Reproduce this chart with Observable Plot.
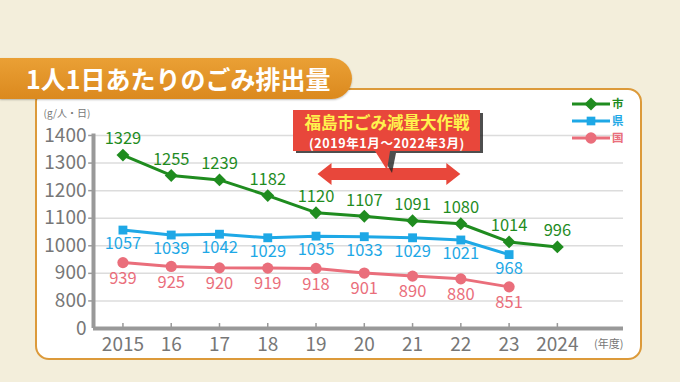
<!DOCTYPE html>
<html><head><meta charset="utf-8">
<script src="https://cdn.jsdelivr.net/npm/d3@7"></script>
<script src="https://cdn.jsdelivr.net/npm/@observablehq/plot@0.6"></script>
<style>
body{margin:0;}
#wrap{position:relative;width:680px;height:382px;overflow:hidden;background:#f3eedb;font-family:"Noto Sans CJK JP","Noto Sans",sans-serif;}
#panel{position:absolute;left:35px;top:88px;width:603px;height:268px;background:#fff;border:2px solid #dc9a3a;border-radius:14px;}
#banner{position:absolute;left:0;top:58px;width:352px;height:41px;background:linear-gradient(#eaa035,#db891e);border-radius:0 21px 21px 0;color:#fff;font-weight:bold;font-size:25px;line-height:41px;padding-left:26px;box-sizing:border-box;box-shadow:0 1px 2px rgba(0,0,0,0.25);}
#chart{position:absolute;left:0;top:0;}
#deco{position:absolute;left:0;top:0;}
</style></head>
<body><div id="wrap"><div id="panel"></div><div id="banner">1人1日あたりのごみ排出量</div><div id="chart"></div><svg id="deco" width="680" height="382"></svg></div>
<script>
const years = [2015,2016,2017,2018,2019,2020,2021,2022,2023,2024];
const xLabels = ["2015","16","17","18","19","20","21","22","23","2024"];
const cityValues = [1329,1255,1239,1182,1120,1107,1091,1080,1014,996];
const prefValues = [1057,1039,1042,1029,1035,1033,1029,1021,968];
const nationValues = [939,925,920,919,918,901,890,880,851];
const yTicks = [700,800,900,1000,1100,1200,1300,1400];
const yLabels = ["0","800","900","1000","1100","1200","1300","1400"];
const seriesNames = ["市","県","国"];
const colors = ["#1f8c1f","#1ea8e6","#ea6e7b"];
const campaignSpan = [2019,2022];

const city = cityValues.map((v,i)=>({year:years[i],v}));
const pref = prefValues.map((v,i)=>({year:years[i],v}));
const nation = nationValues.map((v,i)=>({year:years[i],v}));
const x0 = 2014.39, x1 = 2025.37;

const chart = Plot.plot({
  width:680, height:382,
  marginLeft:93, marginRight:57, marginTop:135, marginBottom:54,
  style:{background:"transparent", fontFamily:'"Noto Sans CJK JP","Noto Sans",sans-serif'},
  x:{domain:[x0,x1], axis:null},
  y:{domain:[700,1400], axis:null},
  marks:[
    Plot.ruleY(yTicks.slice(1), {stroke:"#dcdcdc", strokeWidth:1.5}),
    Plot.ruleY(yTicks.slice(1), {x1:x0-0.1, x2:x0, stroke:"#999", strokeWidth:1.5}),
    Plot.ruleX(years, {y1:700, y2:718, stroke:"#999", strokeWidth:1.5}),
    Plot.ruleY([700], {stroke:"#999", strokeWidth:4}),
    Plot.ruleX([x0], {y1:700, y2:1405, stroke:"#999", strokeWidth:4}),
    Plot.text(yTicks, {x:x0, y:d=>d, dx:-7, textAnchor:"end", text:(d,i)=>yLabels[i], fill:"#777", fontSize:19}),
    Plot.text(years, {x:d=>d, y:700, dy:16, text:(d,i)=>xLabels[i], fill:"#777", fontSize:19}),
    Plot.text(["(年度)"], {x:x1, y:700, dy:16, textAnchor:"end", fill:"#777", fontSize:11}),
    Plot.text(["(g/人・日)"], {x:x0, y:1400, dx:-50, dy:-22, textAnchor:"start", fill:"#777", fontSize:10}),
    Plot.line(nation, {x:"year", y:"v", stroke:colors[2], strokeWidth:3}),
    Plot.dot(nation, {x:"year", y:"v", fill:colors[2], r:5.6, symbol:"circle"}),
    Plot.text(nation, {x:"year", y:"v", dy:16, text:d=>String(d.v), fill:colors[2], fontSize:16.5}),
    Plot.line(pref, {x:"year", y:"v", stroke:colors[1], strokeWidth:3}),
    Plot.dot(pref, {x:"year", y:"v", fill:colors[1], r:5, symbol:"square"}),
    Plot.text(pref, {x:"year", y:"v", dy:14, text:d=>String(d.v), fill:colors[1], fontSize:16.5}),
    Plot.line(city, {x:"year", y:"v", stroke:colors[0], strokeWidth:3}),
    Plot.dot(city, {x:"year", y:"v", fill:colors[0], r:5.8, symbol:"diamond2"}),
    Plot.text(city, {x:"year", y:"v", dy:-16, text:d=>String(d.v), fill:colors[0], fontSize:16.5})
  ]
});
document.getElementById("chart").appendChild(chart);

// decorations: legend, callout and arrow
const xs = chart.scale("x");
const deco = d3.select("#deco");
const legY = [104,121,138];
const sym = [d3.symbolDiamond2, d3.symbolSquare, d3.symbolCircle];
const symSize = [110,75,100];
seriesNames.forEach((n,i)=>{
  deco.append("line").attr("x1",572).attr("x2",610).attr("y1",legY[i]).attr("y2",legY[i]).attr("stroke",colors[i]).attr("stroke-width",3);
  deco.append("path").attr("d",d3.symbol(sym[i],symSize[i])()).attr("transform",`translate(591,${legY[i]})`).attr("fill",colors[i]);
  deco.append("text").attr("x",612).attr("y",legY[i]).attr("dy","0.36em").attr("font-size",11.5).attr("font-weight","bold").attr("fill",colors[i]).text(n);
});
const red = "#e8473b";
// double arrow spanning the campaign
const ax1 = xs.apply(campaignSpan[0]) + 2, ax2 = xs.apply(campaignSpan[1]);
deco.append("path").attr("d",`M${ax1},174 L${ax1+14},163 L${ax1+14},168 L${ax2-14},168 L${ax2-14},163 L${ax2},174 L${ax2-14},185 L${ax2-14},180 L${ax1+14},180 L${ax1+14},185 Z`).attr("fill",red);
// callout
deco.append("path").attr("d","M296,113 h187 v40 h-87 l-4,20 l-12,-20 h-84 z").attr("fill","#222").attr("opacity",0.8);
deco.append("path").attr("d","M293,110 h187 v41 h-90 l-3,19 l-12,-19 h-82 z").attr("fill",red);
deco.append("text").attr("x",387).attr("y",123).attr("dy","0.36em").attr("text-anchor","middle").attr("font-size",16.5).attr("font-weight","bold").attr("fill","#fff24d").text("福島市ごみ減量大作戦");
deco.append("text").attr("x",387).attr("y",143.5).attr("dy","0.36em").attr("text-anchor","middle").attr("font-size",12.5).attr("font-weight","bold").attr("letter-spacing","0.6px").attr("fill","#fff").text("(2019年1月〜2022年3月)");
</script></body></html>
